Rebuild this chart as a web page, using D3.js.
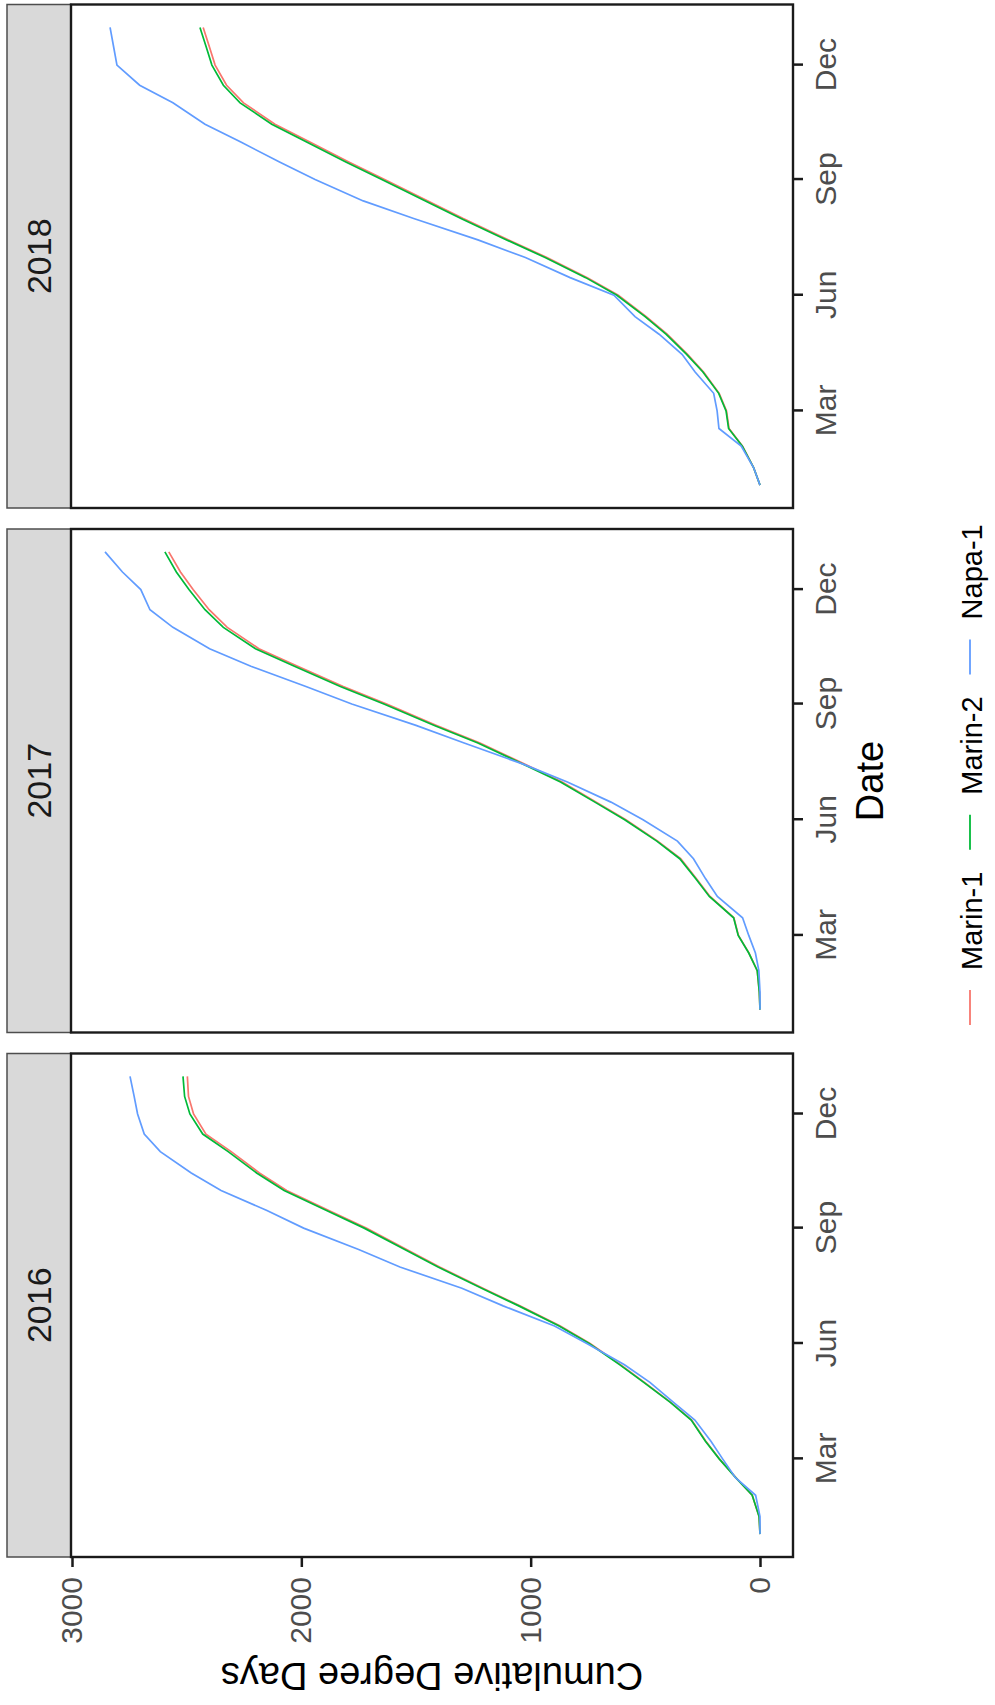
<!DOCTYPE html>
<html>
<head>
<meta charset="utf-8">
<script src="https://cdn.jsdelivr.net/npm/d3@7"></script>
<style>
  body { margin: 0; background: #fff; }
  svg { display: block; font-family: "Liberation Sans", Arial, sans-serif; }
</style>
</head>
<body>
<svg id="chart" width="995" height="1705"></svg>
<script>
// ---- data ----
const years = ["2016", "2017", "2018"];
const sites = ["Marin-1", "Marin-2", "Napa-1"];
const siteColors = ["#F8766D", "#00BA38", "#619CFF"];
const sampleDays = ["01-01","01-15","02-01","02-15","03-01","03-15","04-01","04-15","05-01","05-15",
  "06-01","06-15","07-01","07-15","08-01","08-15","09-01","09-15","10-01","10-15",
  "11-01","11-15","12-01","12-15","12-31"];
const monthTicks = ["03-01", "06-01", "09-01", "12-01"];
const valueTicks = [0, 1000, 2000, 3000];

const marin1_2016 = [0,4,34,105,177,236,298,389,504,607,741,871,1047,1208,1397,1541,1717,1880,2064,2183,2306,2416,2470,2492,2497];
const marin2_2016 = [0,4,34,106,178,238,300,391,507,611,745,876,1052,1214,1404,1549,1726,1890,2075,2195,2319,2430,2486,2509,2516];
const napa1_2016  = [0,0,19,107,163,214,284,377,480,591,755,896,1120,1300,1570,1750,1990,2150,2350,2480,2615,2685,2714,2729,2747];

const marin1_2017 = [0,3,12,48,94,114,218,277,346,446,585,714,863,1022,1221,1410,1628,1817,2016,2185,2323,2402,2472,2527,2578];
const marin2_2017 = [0,3,12,49,95,115,221,280,350,450,590,720,870,1030,1230,1420,1640,1830,2030,2200,2340,2420,2490,2545,2595];
const napa1_2017  = [0,0,5,20,49,76,186,237,290,360,510,650,840,1030,1290,1500,1780,1980,2220,2400,2560,2660,2700,2780,2856];

const marin1_2018 = [0,28,76,135,146,178,246,316,405,496,618,753,929,1096,1294,1448,1637,1793,1965,2115,2252,2326,2376,2400,2428];
const marin2_2018 = [0,28,77,137,148,180,249,320,410,501,624,760,937,1105,1304,1459,1649,1806,1979,2129,2267,2340,2390,2414,2442];
const napa1_2018  = [0,28,82,179,187,202,283,340,440,545,637,828,1023,1230,1510,1730,1940,2095,2266,2420,2560,2705,2804,2818,2834];

const seriesByYear = {
  "2016": [marin1_2016, marin2_2016, napa1_2016],
  "2017": [marin1_2017, marin2_2017, napa1_2017],
  "2018": [marin1_2018, marin2_2018, napa1_2018]
};

// ---- layout (drawn upright, then turned a quarter left) ----
const W = 1705, H = 995;
const panelTop = 71, panelBottom = 793, stripTop = 7;
const panelLeft0 = 148, panelW = 503.5, panelGap = 21;
const parse = d3.timeParse("%Y-%m-%d");

const svg = d3.select("#chart");
const g = svg.append("g").attr("transform", "translate(0," + W + ") rotate(-90)");

const y = d3.scaleLinear().domain([0, 3000]).range([760, 72]);

const line = d3.line()
  .x(d => d.xs(d.date))
  .y(d => y(d.value));

years.forEach((yr, i) => {
  const left = panelLeft0 + i * (panelW + panelGap);
  const t0 = parse(yr + "-01-01"), t1 = parse(yr + "-12-31");
  const span = t1 - t0;
  const x = d3.scaleTime()
    .domain([new Date(+t0 - span * 0.05), new Date(+t1 + span * 0.05)])
    .range([left, left + panelW]);

  // strip
  g.append("rect")
    .attr("x", left).attr("y", stripTop)
    .attr("width", panelW).attr("height", panelTop - stripTop)
    .attr("fill", "#D9D9D9").attr("stroke", "#4d4d4d").attr("stroke-width", 1.5);
  g.append("text")
    .attr("x", left + panelW / 2).attr("y", (stripTop + panelTop) / 2)
    .attr("text-anchor", "middle").attr("dominant-baseline", "central")
    .attr("font-size", 34).attr("fill", "#1A1A1A")
    .text(yr);

  // panel
  g.append("rect")
    .attr("x", left).attr("y", panelTop)
    .attr("width", panelW).attr("height", panelBottom - panelTop)
    .attr("fill", "#fff");

  const dates = sampleDays.map(md => parse(yr + "-" + md));
  seriesByYear[yr].forEach((vals, k) => {
    const pts = vals.map((v, j) => ({ date: dates[j], value: v, xs: x }));
    g.append("path")
      .datum(pts)
      .attr("fill", "none")
      .attr("stroke", siteColors[k])
      .attr("stroke-width", 1.7)
      .attr("d", line);
  });

  g.append("rect")
    .attr("x", left).attr("y", panelTop)
    .attr("width", panelW).attr("height", panelBottom - panelTop)
    .attr("fill", "none").attr("stroke", "#1a1a1a").attr("stroke-width", 2.4);

  // date axis of each facet
  const xAxis = d3.axisBottom(x)
    .tickValues(monthTicks.map(md => parse(yr + "-" + md)))
    .tickFormat(d3.timeFormat("%b"))
    .tickSize(10).tickPadding(12);
  const ax = g.append("g").attr("transform", "translate(0," + panelBottom + ")").call(xAxis);
  ax.select(".domain").remove();
  ax.selectAll(".tick line").attr("stroke", "#1a1a1a").attr("stroke-width", 2.5);
  ax.selectAll(".tick text").attr("font-size", 30).attr("fill", "#4D4D4D")
    .attr("font-family", "Liberation Sans, Arial, sans-serif");

  if (i === 0) {
    const yAxis = d3.axisLeft(y).tickValues(valueTicks).tickFormat(d3.format("d"))
      .tickSize(10).tickPadding(10);
    const ay = g.append("g").attr("transform", "translate(" + left + ",0)").call(yAxis);
    ay.select(".domain").remove();
    ay.selectAll(".tick line").attr("stroke", "#1a1a1a").attr("stroke-width", 2.5);
    ay.selectAll(".tick text").attr("font-size", 30).attr("fill", "#4D4D4D")
      .attr("font-family", "Liberation Sans, Arial, sans-serif");
  }
});

// axis titles
g.append("text")
  .attr("x", 924).attr("y", 870)
  .attr("text-anchor", "middle").attr("dominant-baseline", "central")
  .attr("font-size", 38).attr("fill", "#000")
  .text("Date");

g.append("text")
  .attr("transform", "translate(29,432) rotate(-90)")
  .attr("text-anchor", "middle").attr("dominant-baseline", "central")
  .attr("font-size", 38).attr("fill", "#000")
  .text("Cumulative Degree Days");

// legend
const legend = g.append("g");
let lx = 680;
sites.forEach((s, k) => {
  legend.append("line")
    .attr("x1", lx).attr("x2", lx + 35)
    .attr("y1", 970).attr("y2", 970)
    .attr("stroke", siteColors[k]).attr("stroke-width", 1.8);
  const t = legend.append("text")
    .attr("x", lx + 55).attr("y", 972)
    .attr("dominant-baseline", "central")
    .attr("font-size", 29).attr("fill", "#000")
    .text(s);
  lx += 55 + t.node().getComputedTextLength() + 22;
});
</script>
</body>
</html>
